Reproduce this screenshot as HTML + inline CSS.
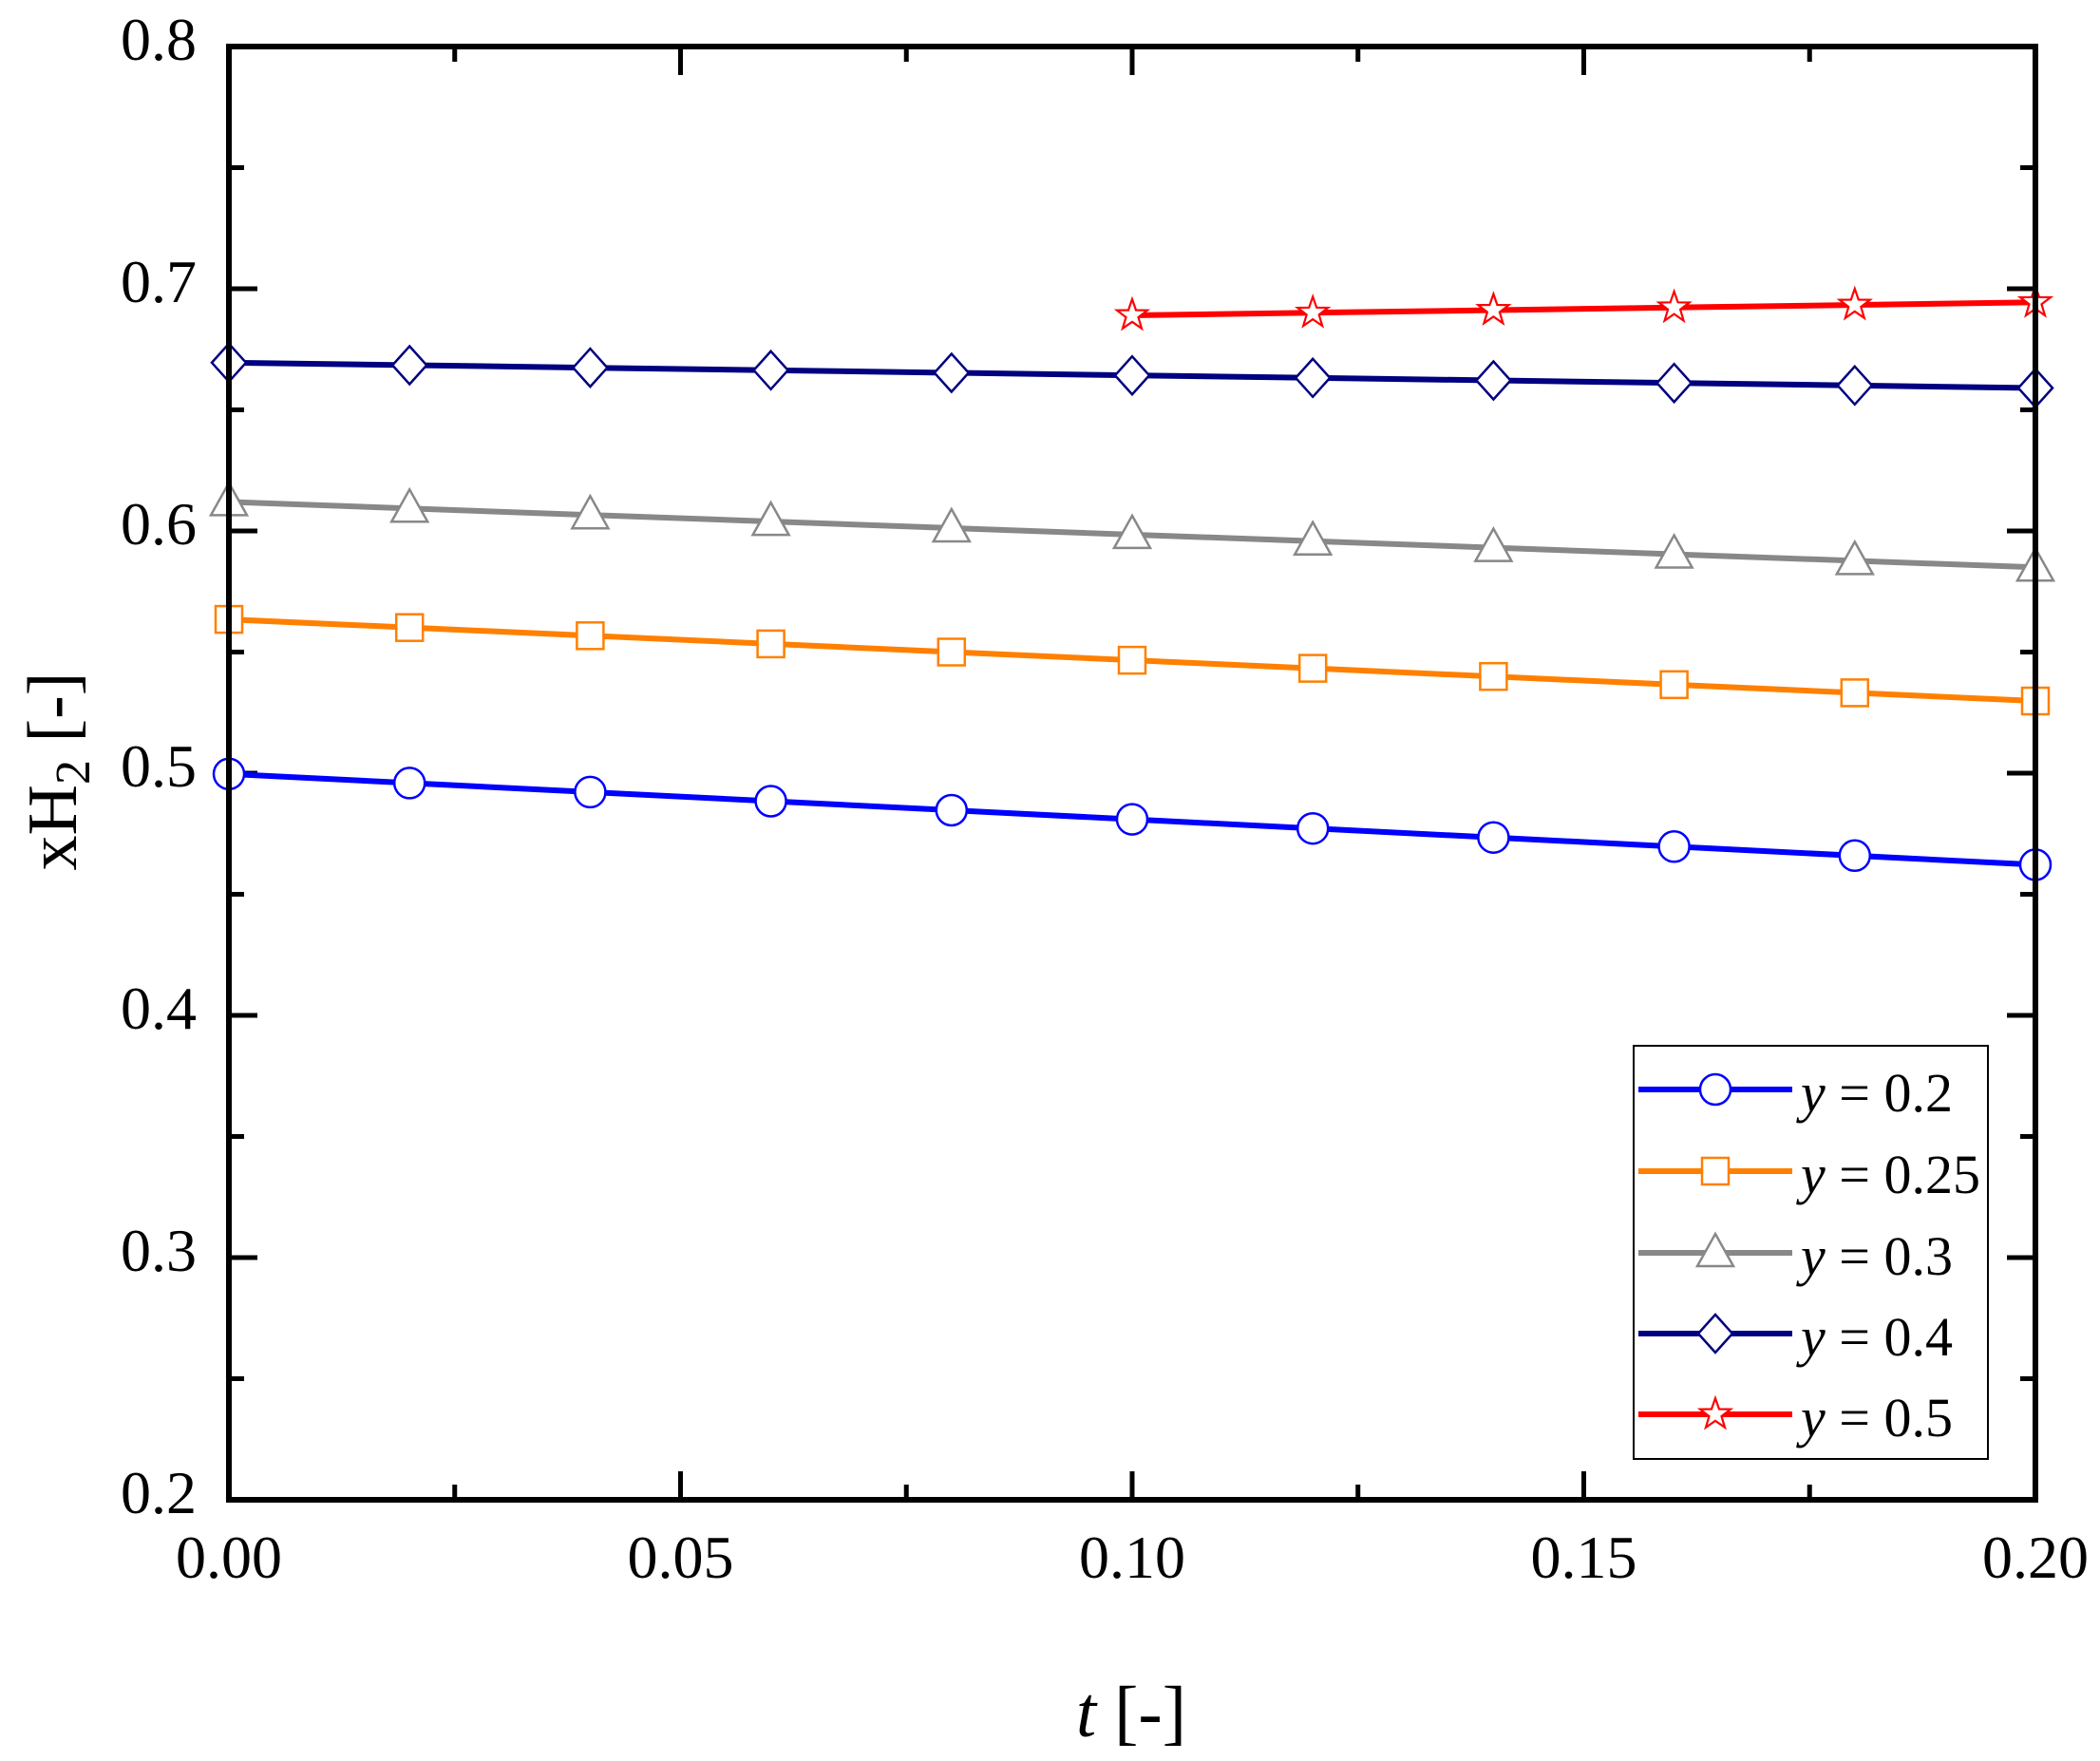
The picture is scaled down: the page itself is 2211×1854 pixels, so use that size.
<!DOCTYPE html>
<html><head><meta charset="utf-8"><style>html,body{margin:0;padding:0;background:#fff}svg{display:block}</style></head>
<body>
<svg width="2211" height="1854" viewBox="0 0 2211 1854" xmlns="http://www.w3.org/2000/svg" font-family="Liberation Serif, serif">
<defs>
<g id="circ"><circle r="16" fill="#fff" stroke="#0000ff" stroke-width="2.5"/></g>
<g id="sq"><rect x="-14" y="-14" width="28" height="28" fill="#fff" stroke="#ff8000" stroke-width="2.5"/></g>
<g id="tri"><polygon points="0,-20 19,14 -19,14" fill="#fff" stroke="#888" stroke-width="2.5"/></g>
<g id="dia"><polygon points="0,-20 18,0 0,20 -18,0" fill="#fff" stroke="#000080" stroke-width="2.5"/></g>
<g id="star"><polygon points="0,-17 4,-5.5 16,-5.3 6.5,2 10,13.8 0,6.8 -10,13.8 -6.5,2 -16,-5.3 -4,-5.5" fill="#fff" stroke="#ff0000" stroke-width="2.2"/></g>
</defs>
<path stroke="#000" stroke-width="5" fill="none" d="
M241,1579v-30 M478.75,1579v-16 M716.5,1579v-30 M954.25,1579v-16 M1192,1579v-30 M1429.75,1579v-16 M1667.5,1579v-30 M1905.25,1579v-16
M478.75,49v16 M716.5,49v30 M954.25,49v16 M1192,49v30 M1429.75,49v16 M1667.5,49v30 M1905.25,49v16
M241,176.5h16 M241,304h30 M241,431.5h16 M241,559h30 M241,686.5h16 M241,814h30 M241,941.5h16 M241,1069h30 M241,1196.5h16 M241,1324h30 M241,1451.5h16
M2143,176.5h-16 M2143,304h-30 M2143,431.5h-16 M2143,559h-30 M2143,686.5h-16 M2143,814h-30 M2143,941.5h-16 M2143,1069h-30 M2143,1196.5h-16 M2143,1324h-30 M2143,1451.5h-16"/>
<g font-size="64" text-anchor="middle">
<text x="241" y="1661">0.00</text><text x="716.5" y="1661">0.05</text><text x="1192" y="1661">0.10</text><text x="1667.5" y="1661">0.15</text><text x="2143" y="1661">0.20</text>
</g>
<g font-size="64" text-anchor="end">
<text x="207" y="63">0.8</text><text x="207" y="318">0.7</text><text x="207" y="573">0.6</text><text x="207" y="828">0.5</text><text x="207" y="1083">0.4</text><text x="207" y="1338">0.3</text><text x="207" y="1593">0.2</text>
</g>
<g fill="none" stroke-width="6">
<line x1="241" y1="814.8" x2="2143" y2="910.4" stroke="#0000ff"/>
<line x1="241" y1="652.1" x2="2143" y2="738.0" stroke="#ff8000"/>
<line x1="241" y1="528.4" x2="2143" y2="597.3" stroke="#888888"/>
<line x1="241" y1="381.8" x2="2143" y2="408.5" stroke="#000080"/>
<line x1="1192" y1="332" x2="2143" y2="318.3" stroke="#ff0000"/>
</g>
<use href="#circ" x="241" y="814.8"/><use href="#circ" x="431.2" y="824.4"/><use href="#circ" x="621.4" y="833.9"/><use href="#circ" x="811.6" y="843.5"/><use href="#circ" x="1001.8" y="853.0"/><use href="#circ" x="1192" y="862.6"/><use href="#circ" x="1382.2" y="872.2"/><use href="#circ" x="1572.4" y="881.7"/><use href="#circ" x="1762.6" y="891.3"/><use href="#circ" x="1952.8" y="900.8"/><use href="#circ" x="2143" y="910.4"/>
<use href="#sq" x="241" y="652.1"/><use href="#sq" x="431.2" y="660.7"/><use href="#sq" x="621.4" y="669.3"/><use href="#sq" x="811.6" y="677.9"/><use href="#sq" x="1001.8" y="686.5"/><use href="#sq" x="1192" y="695.1"/><use href="#sq" x="1382.2" y="703.6"/><use href="#sq" x="1572.4" y="712.2"/><use href="#sq" x="1762.6" y="720.8"/><use href="#sq" x="1952.8" y="729.4"/><use href="#sq" x="2143" y="738.0"/>
<use href="#tri" x="241" y="528.4"/><use href="#tri" x="431.2" y="535.3"/><use href="#tri" x="621.4" y="542.2"/><use href="#tri" x="811.6" y="549.1"/><use href="#tri" x="1001.8" y="556.0"/><use href="#tri" x="1192" y="562.9"/><use href="#tri" x="1382.2" y="569.7"/><use href="#tri" x="1572.4" y="576.6"/><use href="#tri" x="1762.6" y="583.5"/><use href="#tri" x="1952.8" y="590.4"/><use href="#tri" x="2143" y="597.3"/>
<use href="#dia" x="241" y="381.8"/><use href="#dia" x="431.2" y="384.5"/><use href="#dia" x="621.4" y="387.1"/><use href="#dia" x="811.6" y="389.8"/><use href="#dia" x="1001.8" y="392.5"/><use href="#dia" x="1192" y="395.2"/><use href="#dia" x="1382.2" y="397.8"/><use href="#dia" x="1572.4" y="400.5"/><use href="#dia" x="1762.6" y="403.2"/><use href="#dia" x="1952.8" y="405.8"/><use href="#dia" x="2143" y="408.5"/>
<use href="#star" x="1192" y="332"/><use href="#star" x="1382.2" y="329.3"/><use href="#star" x="1572.4" y="326.5"/><use href="#star" x="1762.6" y="323.8"/><use href="#star" x="1952.8" y="321.0"/><use href="#star" x="2143" y="318.3"/>
<rect x="241" y="49" width="1902" height="1530" fill="none" stroke="#000" stroke-width="6"/>
<text transform="translate(80,812) rotate(-90)" font-size="74" text-anchor="middle">xH<tspan font-size="52" dy="14">2</tspan><tspan dy="-14"> [-]</tspan></text>
<text x="1191" y="1828" font-size="76" text-anchor="middle"><tspan font-style="italic">t</tspan> [-]</text>
<rect x="1720" y="1101" width="373" height="435" fill="#fff" stroke="#000" stroke-width="2"/>
<g stroke-width="6">
<line x1="1725" y1="1147" x2="1887" y2="1147" stroke="#0000ff"/><use href="#circ" x="1806" y="1147"/>
<line x1="1725" y1="1233" x2="1887" y2="1233" stroke="#ff8000"/><use href="#sq" x="1806" y="1233"/>
<line x1="1725" y1="1319" x2="1887" y2="1319" stroke="#888"/><use href="#tri" x="1806" y="1319"/>
<line x1="1725" y1="1404" x2="1887" y2="1404" stroke="#000080"/><use href="#dia" x="1806" y="1404"/>
<line x1="1725" y1="1489" x2="1887" y2="1489" stroke="#ff0000"/><use href="#star" x="1806" y="1489"/>
</g>
<g font-size="58">
<text x="1896" y="1170"><tspan font-style="italic">y</tspan> = 0.2</text>
<text x="1896" y="1256"><tspan font-style="italic">y</tspan> = 0.25</text>
<text x="1896" y="1342"><tspan font-style="italic">y</tspan> = 0.3</text>
<text x="1896" y="1427"><tspan font-style="italic">y</tspan> = 0.4</text>
<text x="1896" y="1512"><tspan font-style="italic">y</tspan> = 0.5</text>
</g>
</svg>
</body></html>
